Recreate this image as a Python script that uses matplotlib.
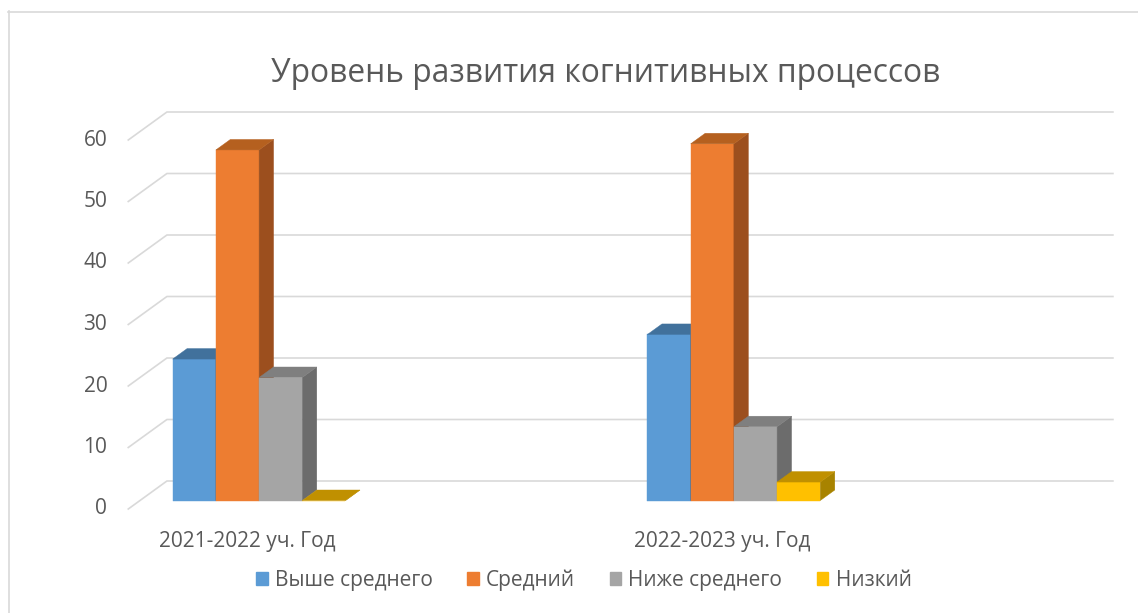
import matplotlib
matplotlib.use("Agg")
import matplotlib.pyplot as plt
from matplotlib.patches import Polygon, Patch
from matplotlib.lines import Line2D
from matplotlib.transforms import IdentityTransform, ScaledTranslation
import numpy as np

plt.rcParams['font.family'] = ['Open Sans', 'DejaVu Sans']

# ---- data ----
categories = ["2021-2022 уч. Год", "2022-2023 уч. Год"]
series_names = ["Выше среднего", "Средний", "Ниже среднего", "Низкий"]
above_avg = [23, 27]
average = [57, 58]
below_avg = [20, 12]
low = [0, 3]
yticks = [0, 10, 20, 30, 40, 50, 60]
title = "Уровень развития когнитивных процессов"

# ---- style ----
front_colors = ["#5B9BD5", "#ED7D31", "#A5A5A5", "#FFC000"]
top_colors = ["#41719C", "#B5601F", "#7F7F7F", "#C09000"]
side_colors = ["#3A6690", "#9C4F1E", "#6C6C6C", "#A88300"]
text_color = "#595959"
grid_color = "#D9D9D9"
small_fs = 15

W, H = 1138, 613
DPI = 100
fig = plt.figure(figsize=(W / DPI, H / DPI), dpi=DPI)
fig.patch.set_facecolor("white")


def px_rect(l, r, top, bottom):
    return [l / W, 1 - bottom / H, (r - l) / W, (bottom - top) / H]


ax = fig.add_axes(px_rect(140, 1086, 500.5 - 6.15 * 60, 500.5))
ax.set_xlim(-0.2508, 1.7416)
ax.set_ylim(0, 60)
ax.axis("off")

K = 1.38          # oblique x shift per px of depth
D_FRONT = -8.5    # front plane (floor edge)
D_BAR = 10.5      # bar depth
D_BACK = 19.5     # back wall


def proj(x, v, d):
    px, py = ax.transData.transform((x, v))
    return (px + K * d, py + d)


def shift(dx, dy):
    return ScaledTranslation(dx / DPI, dy / DPI, fig.dpi_scale_trans)


x_lo, x_hi = ax.get_xlim()

# gridlines on side wall + back wall
for v in yticks:
    pts = [proj(x_lo, v, D_FRONT), proj(x_lo, v, D_BACK), proj(x_hi, v, D_BACK)]
    xs, ys = zip(*pts)
    ax.add_line(Line2D(xs, ys, transform=IdentityTransform(), color=grid_color,
                       lw=1.2, clip_on=False, zorder=1))

# bars
values = [above_avg, average, below_avg, low]
bw = 0.091
offsets = (np.arange(len(values)) - 1.5) * bw
for i, vals in enumerate(values):
    xs = np.arange(len(categories)) + offsets[i]
    ax.bar(xs, vals, width=bw, color=front_colors[i], edgecolor=front_colors[i],
           linewidth=0.3, zorder=3 + i, clip_on=False)
    for x, v in zip(xs, vals):
        x0, x1 = x - bw / 2, x + bw / 2
        top = [proj(x0, v, 0), proj(x1, v, 0), proj(x1, v, D_BAR), proj(x0, v, D_BAR)]
        side = [proj(x1, 0, 0), proj(x1, 0, D_BAR), proj(x1, v, D_BAR), proj(x1, v, 0)]
        ax.add_patch(Polygon(side, closed=True, transform=IdentityTransform(),
                             fc=side_colors[i], ec=side_colors[i], lw=0.3,
                             zorder=3 + i, clip_on=False))
        ax.add_patch(Polygon(top, closed=True, transform=IdentityTransform(),
                             fc=top_colors[i], ec=top_colors[i], lw=0.3,
                             zorder=3 + i, clip_on=False))

# y tick labels at front plane
for v in yticks:
    ax.text(x_lo, v, str(v), transform=ax.transData + shift(K * D_FRONT - 21, D_FRONT),
            ha="right", va="center", fontsize=small_fs, color=text_color)

# category labels
for g, cat in enumerate(categories):
    ax.text(g, 0, cat, transform=ax.transData + shift(K * D_FRONT, D_FRONT - 32),
            ha="center", va="center", fontsize=small_fs, color=text_color)

# title
fig.text(606 / W, 1 - 73 / H, title, ha="center", va="center",
         fontsize=22.9, color=text_color)

# legend
handles = [Patch(facecolor=c, edgecolor=c) for c in front_colors]
fig.legend(handles, series_names, loc="center", bbox_to_anchor=(584 / W, 1 - 580 / H),
           ncol=4, frameon=False, handlelength=0.55, handleheight=0.55,
           handletextpad=0.35, columnspacing=1.65, fontsize=small_fs, labelcolor=text_color)

# chart border (partially cropped)
fig.add_artist(Line2D([8.5 / W, 8.5 / W], [0, 1 - 11 / H], transform=fig.transFigure,
                      color=grid_color, lw=1.2))
fig.add_artist(Line2D([8 / W, 1], [1 - 11.5 / H, 1 - 11.5 / H], transform=fig.transFigure,
                      color=grid_color, lw=1.2))

fig.savefig("out.png", dpi=DPI, facecolor="white")
